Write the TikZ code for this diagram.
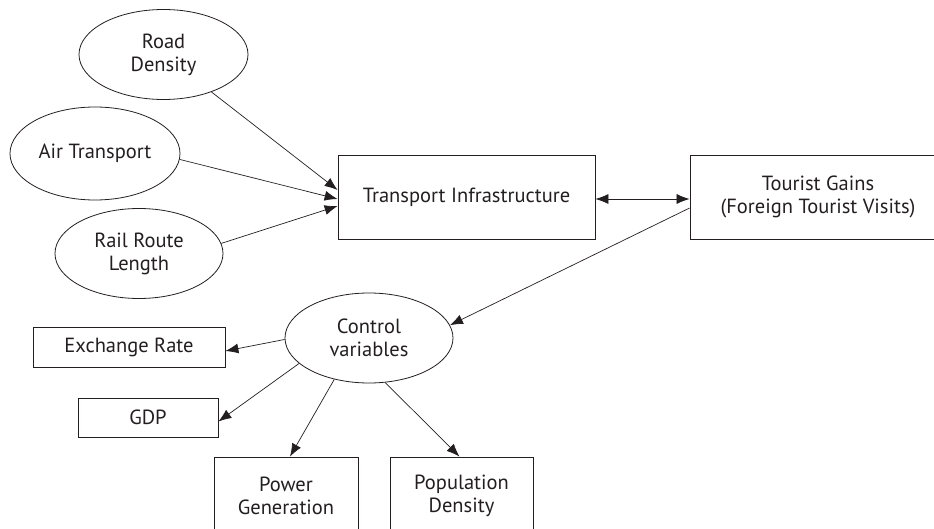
\documentclass[tikz,border=0pt]{standalone}
\usepackage{fontspec}
\setmainfont{PT Sans}
\usetikzlibrary{shapes.geometric,arrows.meta}
\definecolor{ink}{HTML}{231F20}
\tikzset{
  ell/.style={ellipse,draw=ink,line width=0.8pt,inner sep=0pt,align=center,text=ink,font=\fontsize{20.5}{23}\selectfont},
  box/.style={rectangle,draw=ink,line width=0.8pt,inner sep=0pt,align=center,text=ink,font=\fontsize{20.5}{23}\selectfont},
  conn/.style={draw=ink,line width=0.7pt,-{Latex[length=13pt,width=10pt]}},
  conn2/.style={draw=ink,line width=0.7pt,{Latex[length=13pt,width=10pt]}-{Latex[length=13pt,width=10pt]}}
}
\begin{document}
\begin{tikzpicture}[x=1pt,y=-1pt]
\useasboundingbox (0,0) rectangle (934,529);
\clip (0,0) rectangle (934,529);
\node[ell,minimum width=169pt,minimum height=90pt] (road) at (163.5,54.5) {Road\\Density};
\node[ell,minimum width=170pt,minimum height=93pt] (air) at (95,153.5) {Air Transport};
\node[ell,minimum width=168pt,minimum height=90pt] (rail) at (139,253.5) {Rail Route\\Length};
\node[box,minimum width=257pt,minimum height=84pt] (ti) at (466.5,197) {Transport Infrastructure};
\node[box,minimum width=256pt,minimum height=84pt] (tg) at (818,197) {Tourist Gains\\(Foreign Tourist Visits)};
\node[ell,minimum width=168pt,minimum height=90pt] (ctrl) at (369,338) {Control\\variables};
\node[box,minimum width=192pt,minimum height=40pt] (exch) at (129,347) {Exchange Rate};
\node[box,minimum width=140pt,minimum height=39pt] (gdp) at (148,417.5) {GDP};
\node[box,minimum width=144pt,minimum height=78pt] (pow) at (286,496) {Power\\Generation};
\node[box,minimum width=143pt,minimum height=78pt] (pop) at (461.5,496) {Population\\Density};

\draw[conn] (road.-38) -- ([yshift=7pt]ti.west);
\draw[conn] (air.-4) -- ([yshift=-2pt]ti.west);
\draw[conn] (rail.7) -- ([yshift=-9pt]ti.west);
\draw[conn2] ([yshift=-2pt]ti.east) -- ([yshift=-2pt]tg.west);
\draw[conn] ([yshift=-11pt]tg.west) -- (ctrl.9);
\draw[conn] (ctrl.181) -- ([yshift=-4pt]exch.east);
\draw[conn] (ctrl.200) -- ([yshift=-4pt]gdp.east);
\draw[conn] (ctrl.230) -- ([xshift=4pt]pow.north);
\draw[conn] (ctrl.-70) -- ([xshift=-2pt]pop.north);
\end{tikzpicture}
\end{document}
